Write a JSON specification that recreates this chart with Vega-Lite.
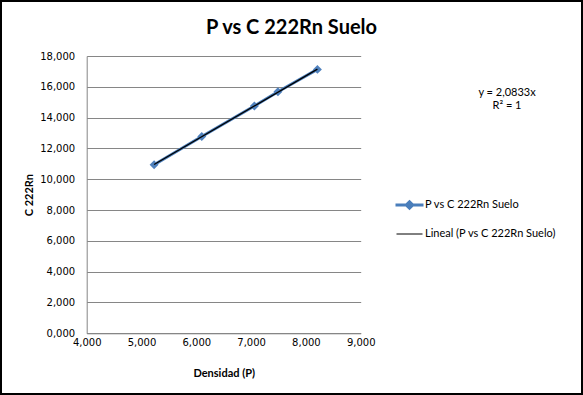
{
  "$schema": "https://vega.github.io/schema/vega-lite/v6.json",
  "width": 581,
  "height": 393,
  "autosize": {"type": "none"},
  "padding": 1,
  "background": "white",
  "title": {"text": "P vs C 222Rn Suelo", "font": "Lato", "fontSize": 20, "fontWeight": "bold", "color": "black", "anchor": "middle", "frame": "group", "offset": -37},
  "config": {
    "view": {"stroke": "black", "strokeWidth": 2},
    "axis": {"labelFont": "DejaVu Sans", "labelFontSize": 10, "labelColor": "black", "titleFont": "Lato", "titleFontSize": 11, "titleFontWeight": "bold", "titleColor": "black", "domainColor": "#868686", "gridColor": "#868686", "ticks": false, "labelFlush": false, "labelOverlap": false}
  },
  "data": {"values": [
    {"p": 5.23, "c": 10.94},
    {"p": 6.10, "c": 12.78},
    {"p": 7.06, "c": 14.75},
    {"p": 7.49, "c": 15.68},
    {"p": 8.21, "c": 17.13}
  ]},
  "layer": [
    {
      "mark": {"type": "line", "strokeWidth": 3},
      "encoding": {
        "x": {"field": "p", "type": "quantitative", "scale": {"domain": [4, 9], "range": [85.7, 359.7], "nice": false, "zero": false},
          "axis": {"title": "Densidad (P)", "values": [4, 5, 6, 7, 8, 9], "labelExpr": "replace(format(datum.value, '.3f'), '.', ',')", "offset": -60.7, "grid": false, "labelPadding": 4, "titlePadding": 20}},
        "y": {"field": "c", "type": "quantitative", "scale": {"domain": [0, 18], "range": [332.3, 55], "nice": false, "zero": false},
          "axis": {"title": "C 222Rn", "values": [0, 2, 4, 6, 8, 10, 12, 14, 16, 18], "labelExpr": "replace(format(datum.value, '.3f'), '.', ',')", "offset": -85.7, "grid": true, "labelPadding": 12, "titlePadding": 5}},
        "color": {"datum": "P vs C 222Rn Suelo", "type": "nominal",
          "scale": {"domain": ["P vs C 222Rn Suelo", "Lineal (P vs C 222Rn Suelo)"], "range": ["#4A7EBB", "#000000"]},
          "legend": {"orient": "none", "legendX": 403, "legendY": 198.5, "title": null, "symbolSize": 100, "labelFont": "Lato", "labelFontSize": 11, "labelColor": "black", "labelOffset": 10, "rowPadding": 13, "padding": 0, "labelLimit": 300,
            "encode": {"symbols": {"update": {
              "size": {"value": 100},
              "shape": {"signal": "datum.value === 'P vs C 222Rn Suelo' ? 'M-2.8,0H2.8M0,-0.65L0.65,0L0,0.65L-0.65,0Z' : 'M-2.6,0H2.6'"},
              "strokeWidth": {"signal": "datum.value === 'P vs C 222Rn Suelo' ? 3 : 1"},
              "fill": {"signal": "datum.value === 'P vs C 222Rn Suelo' ? '#4F81BD' : 'transparent'"}
            }}}}
        }
      }
    },
    {
      "mark": {"type": "point", "shape": "diamond", "filled": true, "color": "#4F81BD", "size": 80, "opacity": 1},
      "encoding": {
        "x": {"field": "p", "type": "quantitative"},
        "y": {"field": "c", "type": "quantitative"}
      }
    },
    {
      "transform": [{"regression": "c", "on": "p"}],
      "mark": {"type": "line", "strokeWidth": 1.3},
      "encoding": {
        "x": {"field": "p", "type": "quantitative"},
        "y": {"field": "c", "type": "quantitative"},
        "color": {"datum": "Lineal (P vs C 222Rn Suelo)", "type": "nominal"}
      }
    },
    {
      "data": {"values": [{"eq": ["y = 2,0833x", "R² = 1"]}]},
      "mark": {"type": "text", "font": "Lato", "fontSize": 11, "color": "black", "align": "center", "baseline": "middle", "lineHeight": 13},
      "encoding": {
        "x": {"datum": 11.67, "type": "quantitative"},
        "y": {"datum": 15.6, "type": "quantitative"},
        "text": {"field": "eq"}
      }
    }
  ]
}
